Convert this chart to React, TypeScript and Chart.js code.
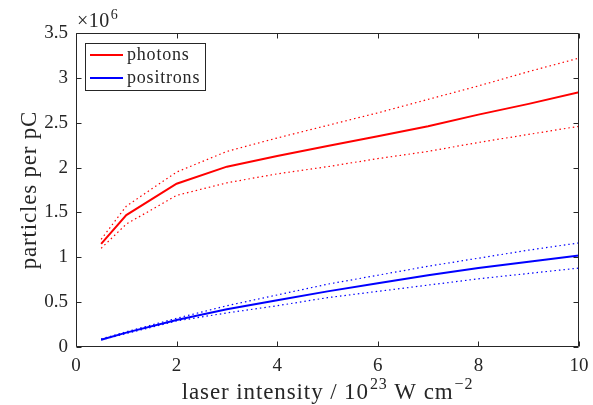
import { useEffect, useRef } from 'react';
import { Chart, registerables } from 'chart.js';

Chart.register(...registerables);

const SERIF = '"Liberation Serif", "Times New Roman", serif';
const INK = '#262626';
const RED = '#ff0000';
const BLUE = '#0000ff';

// laser intensity in units of 1e23 W cm^-2
const intensity = [0.5, 1, 2, 3, 4, 5, 6, 7, 8, 9, 10];

// particles per pC, in units of 1e6
const photonsMean = [1.15, 1.47, 1.82, 2.01, 2.13, 2.24, 2.35, 2.46, 2.59, 2.71, 2.84];
const photonsUpper = [1.2, 1.57, 1.95, 2.18, 2.33, 2.47, 2.61, 2.76, 2.91, 3.07, 3.22];
const photonsLower = [1.1, 1.37, 1.69, 1.83, 1.93, 2.01, 2.1, 2.18, 2.28, 2.37, 2.46];

const positronsMean = [0.08, 0.16, 0.3, 0.42, 0.52, 0.62, 0.71, 0.8, 0.88, 0.95, 1.02];
const positronsUpper = [0.09, 0.17, 0.32, 0.46, 0.58, 0.7, 0.8, 0.9, 0.99, 1.08, 1.16];
const positronsLower = [0.08, 0.15, 0.29, 0.38, 0.46, 0.55, 0.62, 0.69, 0.76, 0.82, 0.88];

const legendEntries = [
  { label: 'photons', color: RED },
  { label: 'positrons', color: BLUE },
];

const yTitle = 'particles per pC';
const xTitleParts: { text: string; sup?: boolean }[] = [
  { text: 'laser intensity / 10' },
  { text: '23', sup: true },
  { text: ' W cm' },
  { text: '\u22122', sup: true },
];

const toPoints = (ys: number[]) => intensity.map((x, i) => ({ x, y: ys[i] }));

const solid = (label: string, color: string, ys: number[]) => ({
  label,
  data: toPoints(ys),
  borderColor: color,
  backgroundColor: color,
  borderWidth: 2,
  pointRadius: 0,
  tension: 0,
  fill: false,
});

const dotted = (label: string, color: string, ys: number[]) => ({
  label,
  data: toPoints(ys),
  borderColor: color,
  backgroundColor: color,
  borderWidth: 1.2,
  borderDash: [1.5, 3],
  pointRadius: 0,
  tension: 0,
  fill: false,
});

// box, inward ticks, exponent, axis titles and the legend
const decorations = {
  id: 'decorations',
  afterDraw(chart: any) {
    const { ctx, chartArea: a, scales } = chart;
    const L = Math.round(a.left) + 0.5;
    const R = Math.round(a.right) - 0.5;
    const T = Math.round(a.top) + 0.5;
    const B = Math.round(a.bottom) - 0.5;
    const tick = 5;

    ctx.save();
    ctx.strokeStyle = INK;
    ctx.lineWidth = 1;
    ctx.beginPath();
    ctx.rect(L, T, R - L, B - T);
    scales.x.ticks.forEach((t: any) => {
      const px = Math.round(scales.x.getPixelForValue(t.value)) + 0.5;
      ctx.moveTo(px, B);
      ctx.lineTo(px, B - tick);
      ctx.moveTo(px, T);
      ctx.lineTo(px, T + tick);
    });
    scales.y.ticks.forEach((t: any) => {
      const py = Math.round(scales.y.getPixelForValue(t.value)) + 0.5;
      ctx.moveTo(L, py);
      ctx.lineTo(L + tick, py);
      ctx.moveTo(R, py);
      ctx.lineTo(R - tick, py);
    });
    ctx.stroke();

    // exponent multiplier
    ctx.fillStyle = INK;
    ctx.textBaseline = 'alphabetic';
    ctx.textAlign = 'left';
    ctx.letterSpacing = '0.5px';
    ctx.font = `20px ${SERIF}`;
    const base = '\u00d710';
    ctx.fillText(base, a.left + 1, 27);
    const bw = ctx.measureText(base).width;
    ctx.font = `14px ${SERIF}`;
    ctx.fillText('6', a.left + 1 + bw + 1, 19);

    // x axis title
    ctx.letterSpacing = '0.9px';
    const mainFont = `23px ${SERIF}`;
    const supFont = `16px ${SERIF}`;
    let total = 0;
    const widths = xTitleParts.map((p) => {
      ctx.font = p.sup ? supFont : mainFont;
      const w = ctx.measureText(p.text).width + (p.sup ? 1 : 0);
      total += w;
      return w;
    });
    let cx = (a.left + a.right) / 2 - total / 2;
    const baseY = 399;
    xTitleParts.forEach((p, i) => {
      ctx.font = p.sup ? supFont : mainFont;
      ctx.fillText(p.text, cx + (p.sup ? 1 : 0), p.sup ? baseY - 10 : baseY);
      cx += widths[i];
    });

    // y axis title, rotated
    ctx.save();
    ctx.font = `23px ${SERIF}`;
    ctx.letterSpacing = '0.8px';
    ctx.translate(36, (a.top + a.bottom) / 2);
    ctx.rotate(-Math.PI / 2);
    ctx.textAlign = 'center';
    ctx.fillText(yTitle, 0, 0);
    ctx.restore();

    // legend
    const lx = 85.5;
    const ly = 43.5;
    const lw = 120;
    const lh = 47;
    ctx.fillStyle = '#ffffff';
    ctx.fillRect(lx, ly, lw, lh);
    ctx.strokeStyle = INK;
    ctx.lineWidth = 1;
    ctx.strokeRect(lx, ly, lw, lh);
    ctx.font = `18px ${SERIF}`;
    ctx.letterSpacing = '0.8px';
    legendEntries.forEach((e, i) => {
      const y = 55 + i * 23;
      ctx.strokeStyle = e.color;
      ctx.lineWidth = 2;
      ctx.beginPath();
      ctx.moveTo(90, y);
      ctx.lineTo(123, y);
      ctx.stroke();
      ctx.fillStyle = INK;
      ctx.fillText(e.label, 127, y + 5);
    });
    ctx.letterSpacing = '0px';
    ctx.restore();
  },
};

export default function App() {
  const canvasRef = useRef<HTMLCanvasElement | null>(null);

  useEffect(() => {
    const canvas = canvasRef.current;
    if (!canvas) return;
    const chart = new Chart(canvas, {
      type: 'line',
      data: {
        datasets: [
          dotted('photons upper', RED, photonsUpper),
          dotted('photons lower', RED, photonsLower),
          dotted('positrons upper', BLUE, positronsUpper),
          dotted('positrons lower', BLUE, positronsLower),
          solid('photons', RED, photonsMean),
          solid('positrons', BLUE, positronsMean),
        ],
      },
      options: {
        responsive: false,
        animation: false,
        devicePixelRatio: 1,
        layout: { padding: { left: 0, top: 33, right: 14, bottom: 0 } },
        plugins: {
          legend: { display: false },
          tooltip: { enabled: false },
        },
        scales: {
          x: {
            type: 'linear',
            min: 0,
            max: 10,
            ticks: {
              stepSize: 2,
              padding: 8,
              color: INK,
              font: { family: SERIF, size: 19 },
              maxRotation: 0,
            },
            grid: { display: false, drawTicks: false },
            border: { display: false },
            afterFit: (scale: any) => {
              scale.height = 58;
              scale.paddingLeft = 0;
              scale.paddingRight = 0;
            },
          },
          y: {
            type: 'linear',
            min: 0,
            max: 3.5,
            ticks: {
              stepSize: 0.5,
              padding: 8,
              color: INK,
              font: { family: SERIF, size: 19 },
              callback: (v: any) => String(Number(v)),
            },
            grid: { display: false, drawTicks: false },
            border: { display: false },
            afterFit: (scale: any) => {
              scale.width = 76;
              scale.paddingTop = 0;
              scale.paddingBottom = 0;
            },
          },
        },
      },
      plugins: [decorations],
    });
    return () => chart.destroy();
  }, []);

  return (
    <div style={{ position: 'fixed', left: 0, top: 0, width: 593, height: 405, background: '#ffffff' }}>
      <canvas ref={canvasRef} width={593} height={405} style={{ display: 'block' }} />
    </div>
  );
}
